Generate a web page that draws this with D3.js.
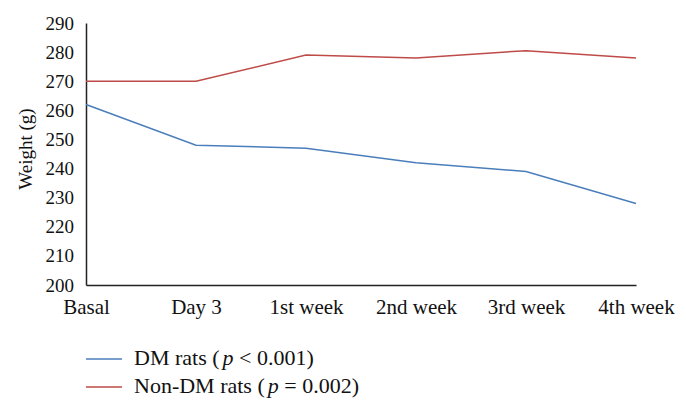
<!DOCTYPE html>
<html><head><meta charset="utf-8">
<script src="https://cdn.jsdelivr.net/npm/d3@7"></script>
<style>body{margin:0;background:#fff}svg{display:block}</style>
</head><body><svg id="c" width="686" height="410"></svg>
<script>
const categories = ["Basal","Day 3","1st week","2nd week","3rd week","4th week"];
const dmRats = [262,248,247,242,239,228];
const nonDmRats = [270,270,279,278,280.5,278];
const yTicks = [200,210,220,230,240,250,260,270,280,290];
const seriesNames = ["DM rats", "Non-DM rats"];

const svg = d3.select("#c");
const font = "'Liberation Serif', serif";
const x = d3.scalePoint().domain(categories).range([86,636]).padding(0);
const y = d3.scaleLinear().domain([200,290]).range([285,23]);

const gy = svg.append("g").attr("transform","translate(86,0)")
  .call(d3.axisLeft(y).tickValues(yTicks).tickSize(0).tickPadding(12).tickFormat(d3.format("d")));
gy.select(".domain").attr("stroke","#222").attr("stroke-width",1.5);
gy.selectAll("text").attr("font-family",font).attr("font-size",19).attr("fill","#111");

const gx = svg.append("g").attr("transform","translate(0,285)")
  .call(d3.axisBottom(x).tickSize(0).tickPadding(14));
gx.select(".domain").attr("stroke","#222").attr("stroke-width",1.5);
gx.selectAll("text").attr("font-family",font).attr("font-size",21).attr("fill","#111");

svg.append("text").attr("transform","translate(32,149) rotate(-90)")
  .attr("text-anchor","middle").attr("font-family",font).attr("font-size",19).attr("fill","#111")
  .text("Weight (g)");

const line = d3.line().x((d,i)=>x(categories[i])).y(d=>y(d));
const colors = ["#4a7ebb","#be4b48"];
[dmRats, nonDmRats].forEach((s,k)=>{
  svg.append("path").datum(s).attr("d",line).attr("fill","none")
    .attr("stroke",colors[k]).attr("stroke-width",1.5);
});

const legend = [
  {name:seriesNames[0], op:"<", p:"0.001"},
  {name:seriesNames[1], op:"=", p:"0.002"}
];
legend.forEach((l,i)=>{
  const yy = 359 + i*28;
  svg.append("line").attr("x1",86).attr("x2",122).attr("y1",yy).attr("y2",yy)
    .attr("stroke",colors[i]).attr("stroke-width",1.5);
  const t = svg.append("text").attr("x",134).attr("y",yy+6)
    .attr("font-family",font).attr("font-size",22).attr("fill","#111");
  t.append("tspan").text(l.name + " (");
  t.append("tspan").attr("font-style","italic").attr("dx",3).text("p");
  t.append("tspan").text(" " + l.op + " " + l.p + ")");
});
</script></body></html>
